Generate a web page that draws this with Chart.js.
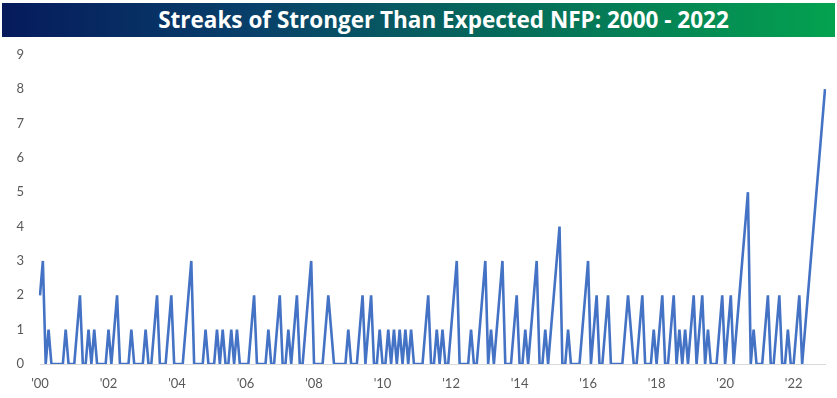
<!DOCTYPE html>
<html>
<head>
<meta charset="utf-8">
<script src="https://cdn.jsdelivr.net/npm/chart.js@4"></script>
<style>
  html, body { margin: 0; padding: 0; background: #fff; }
  #page { position: relative; width: 837px; height: 398px; overflow: hidden; }
  #title {
    position: absolute; left: 2px; top: 3px; width: 833px; height: 34px;
    background: linear-gradient(to right, #061a5c 0%, #08406a 30%, #056a5a 60%, #04a24f 100%);
    color: #fff; font-family: "Open Sans", Lato, sans-serif; font-weight: bold;
    font-size: 22.5px; line-height: 34px; text-align: center; text-indent: 50px;
  }
  #wrap { position: absolute; left: 0; top: 31px; width: 837px; height: 367px; }
</style>
</head>
<body>
<div id="page">
  <div id="title">Streaks of Stronger Than Expected NFP: 2000 - 2022</div>
  <div id="wrap"><canvas id="graphCanvas"></canvas></div>
</div>
<script>
const startYear = 2000;
const tickYears = ["'00", "'02", "'04", "'06", "'08", "'10", "'12", "'14", "'16", "'18", "'20", "'22"];
const yTicks = [0, 1, 2, 3, 4, 5, 6, 7, 8, 9];

// monthly streak length, Jan 2000 - Dec 2022 (one row per year)
const streaks = [
  2, 3, 0, 1, 0, 0, 0, 0, 0, 1, 0, 0,
  0, 1, 2, 0, 0, 1, 0, 1, 0, 0, 0, 0,
  1, 0, 1, 2, 0, 0, 0, 0, 1, 0, 0, 0,
  0, 1, 0, 0, 1, 2, 0, 0, 0, 1, 2, 0,
  0, 0, 0, 1, 2, 3, 0, 0, 0, 0, 1, 0,
  0, 0, 1, 0, 1, 0, 0, 1, 0, 1, 0, 0,
  0, 0, 1, 2, 0, 0, 0, 0, 1, 0, 0, 1,
  2, 0, 0, 1, 0, 1, 2, 0, 0, 1, 2, 3,
  0, 0, 0, 0, 1, 2, 1, 0, 0, 0, 0, 0,
  1, 0, 0, 0, 1, 2, 0, 1, 2, 0, 0, 1,
  0, 0, 1, 0, 1, 0, 1, 0, 1, 0, 1, 0,
  0, 0, 0, 1, 2, 0, 0, 1, 0, 1, 0, 0,
  1, 2, 3, 0, 0, 0, 0, 1, 0, 0, 1, 2,
  3, 0, 1, 0, 1, 2, 3, 0, 0, 0, 1, 2,
  0, 0, 1, 0, 1, 2, 3, 0, 0, 1, 0, 1,
  2, 3, 4, 0, 0, 1, 0, 0, 0, 0, 1, 2,
  3, 0, 1, 2, 0, 0, 1, 2, 0, 0, 0, 0,
  0, 1, 2, 1, 0, 0, 1, 2, 0, 0, 0, 1,
  0, 1, 2, 0, 0, 1, 2, 0, 1, 0, 1, 0,
  1, 2, 0, 1, 2, 0, 1, 0, 0, 0, 1, 2,
  0, 1, 2, 0, 1, 2, 3, 4, 5, 0, 1, 0,
  0, 0, 1, 2, 0, 0, 1, 2, 0, 0, 1, 0,
  0, 1, 2, 0, 1, 2, 3, 4, 5, 6, 7, 8
];

const months = streaks.map((v, i) => {
  const y = startYear + Math.floor(i / 12);
  return y + '-' + String(i % 12 + 1).padStart(2, '0');
});

const tickFont = { family: 'Lato, "Open Sans", sans-serif', size: 13 };

new Chart(document.getElementById('graphCanvas').getContext('2d'), {
  type: 'line',
  data: {
    labels: months,
    datasets: [{
      label: 'Streak',
      data: streaks,
      borderColor: '#4472C4',
      borderWidth: 2.6,
      pointRadius: 0,
      tension: 0,
      fill: false
    }]
  },
  options: {
    responsive: true,
    maintainAspectRatio: false,
    animation: false,
    layout: { padding: { top: 9, right: 12, left: 0, bottom: 0 } },
    plugins: { legend: { display: false }, tooltip: { enabled: false } },
    scales: {
      x: {
        offset: false,
        grid: { display: false, drawTicks: false },
        border: { display: true, color: '#d9d9d9', width: 1 },
        afterFit: (scale) => { scale.height = 34; },
        ticks: {
          autoSkip: false,
          maxRotation: 0,
          padding: 12,
          color: '#595959',
          font: tickFont,
          callback: function (val, idx) {
            if (idx % 24 !== 0) return null;
            return tickYears[idx / 24];
          }
        }
      },
      y: {
        min: yTicks[0],
        max: yTicks[yTicks.length - 1],
        grid: { display: false, drawTicks: false },
        border: { display: false },
        afterFit: (scale) => { scale.width = 40; },
        afterBuildTicks: (scale) => { scale.ticks = yTicks.map(v => ({ value: v })); },
        ticks: { padding: 16, color: '#595959', font: tickFont }
      }
    }
  }
});
</script>
</body>
</html>
